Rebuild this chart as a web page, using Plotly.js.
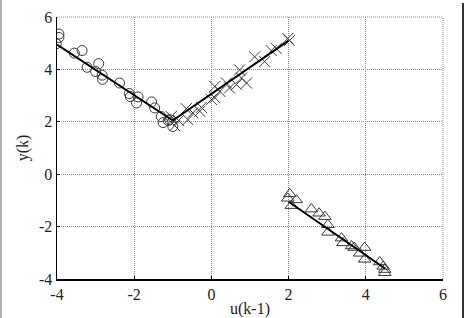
<!DOCTYPE html>
<html><head><meta charset="utf-8">
<script src="https://cdn.plot.ly/plotly-3.0.1.min.js"></script>
<style>
html,body{margin:0;padding:0;background:#fff;}
#wrap{position:relative;width:467px;height:318px;overflow:hidden;}
#plot{width:467px;height:318px;}
#bl{position:absolute;left:0;top:0;width:2px;height:318px;background:#b0b0b0;}
#br{position:absolute;left:462px;top:3px;width:2px;height:315px;background:#333;}
</style></head>
<body><div id="wrap"><div id="plot"></div><div id="bl"></div><div id="br"></div></div>
<script>
// circles (u < -1)
const circX = [-4.02,-3.95,-3.95,-3.55,-3.35,-3.22,-3.0,-2.92,-2.83,-2.82,-2.38,-2.13,-2.1,-1.9,-1.94,-1.55,-1.47,-1.3,-1.25,-1.08,-1.0,-1.12];
const circY = [4.98,5.35,5.22,4.62,4.72,4.08,3.92,4.22,3.78,3.62,3.48,3.08,2.96,2.95,2.72,2.76,2.53,2.2,1.97,2.08,1.82,2.05];
// crosses (-1 < u < 2)
const crossX = [-1.04,-0.95,-0.85,-0.65,-0.61,-0.48,-0.3,-0.26,0.0,0.09,0.09,0.22,0.39,0.47,0.65,0.73,0.78,0.91,1.12,1.38,1.55,1.68,1.98,2.02];
const crossY = [2.2,1.85,2.05,2.5,2.08,2.34,2.4,2.55,2.85,2.92,3.35,3.16,3.48,3.29,3.42,3.98,3.67,3.48,4.48,4.3,4.72,4.8,5.18,5.1];
// triangles (u > 2)
const triX = [2.03,1.98,2.2,2.07,2.59,2.79,2.94,3.02,3.02,3.37,3.41,3.63,3.7,3.97,3.84,3.97,4.36,4.45,4.49,4.49];
const triY = [-0.75,-0.92,-0.98,-1.2,-1.33,-1.49,-1.62,-1.93,-2.22,-2.44,-2.62,-2.74,-2.8,-2.8,-3.02,-3.25,-3.35,-3.52,-3.64,-3.76];
// fitted model lines
const fit1X = [-4, -1.0], fit1Y = [4.95, 2.05];
const fit2X = [-1.0, 2.0], fit2Y = [2.05, 5.1];
const fit3X = [2.0, 4.5], fit3Y = [-1.05, -3.6];
const xTicks = [-4,-2,0,2,4,6];
const yTicks = [-4,-2,0,2,4,6];

const mcol = '#3a3a3a';
const mk = (x,y,sym,sz)=>({x,y,type:'scatter',mode:'markers',
  marker:{symbol:sym,size:sz,color:mcol,line:{color:mcol,width:1}},hoverinfo:'none'});
const ln = (x,y)=>({x,y,type:'scatter',mode:'lines',line:{color:'#000',width:2},hoverinfo:'none'});
const data = [
  mk(circX,circY,'circle-open',10),
  mk(crossX,crossY,'x-thin-open',11),
  mk(triX,triY,'triangle-up-open',11),
  ln(fit1X,fit1Y), ln(fit2X,fit2Y), ln(fit3X,fit3Y)
];
const font = {family:'"Liberation Serif","DejaVu Serif",serif',size:16,color:'#222'};
const gdash = '1px,1px';
const ax = {showgrid:true,gridcolor:'#888',griddash:gdash,gridwidth:1,zeroline:false,
  showline:true,linecolor:'#000',linewidth:1.5,ticks:'inside',ticklen:3,tickcolor:'#000',
  tickfont:font,mirror:false};
const layout = {
  width:467,height:318,showlegend:false,
  margin:{l:57,r:24,t:17,b:39},
  paper_bgcolor:'#fff',plot_bgcolor:'#fff',font:font,
  xaxis:Object.assign({},ax,{range:[-4,6],tickvals:xTicks,ticktext:xTicks.map(String),
    title:{text:'u(k-1)',font:font,standoff:3}}),
  yaxis:Object.assign({},ax,{range:[-4,6],tickvals:yTicks,ticktext:yTicks.map(String),
    title:{text:'y(k)',font:font,standoff:6}}),
  shapes:[
    {type:'line',xref:'paper',yref:'paper',x0:0,x1:1,y0:1,y1:1,line:{color:'#888',width:1,dash:gdash}},
    {type:'line',xref:'paper',yref:'paper',x0:1,x1:1,y0:0,y1:1,line:{color:'#888',width:1,dash:gdash}}
  ]
};
Plotly.newPlot('plot',data,layout,{staticPlot:true});
</script></body></html>
